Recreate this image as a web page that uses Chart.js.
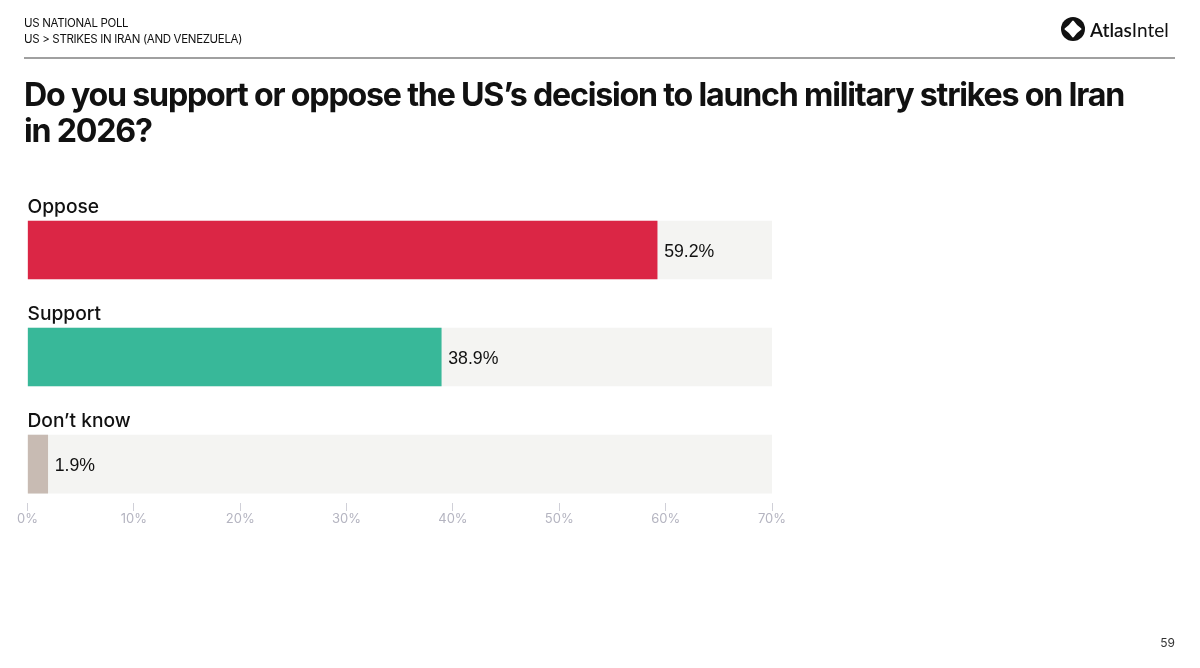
<!DOCTYPE html>
<html>
<head>
<meta charset="utf-8">
<title>AtlasIntel US National Poll</title>
<script src="https://cdn.jsdelivr.net/npm/chart.js@4"></script>
<style>
    html, body { margin: 0; padding: 0; background: #fff; }
    body { width: 1200px; height: 668px; position: relative; overflow: hidden; font-family: Inter, sans-serif; color: #111; }
    canvas { position: absolute; left: 0; top: 0; }
    .head { position: absolute; left: 24px; font-size: 11.5px; line-height: 16px; letter-spacing: -0.33px; white-space: nowrap; }
    #rule { position: absolute; left: 24px; top: 57px; width: 1151px; height: 2px; background: #a0a0a0; }
    #title { position: absolute; left: 24px; top: 77px; font-size: 32.2px; line-height: 36px; font-weight: 650; letter-spacing: -1.22px; white-space: nowrap; }
    #logo { position: absolute; left: 1061px; top: 17px; }
    #logoText { position: absolute; left: 1090px; top: 17px; font-size: 19px; line-height: 25px; font-weight: 600; white-space: nowrap; font-family: Lato, sans-serif; }
    #logoText span { font-weight: 400; }
    #page { position: absolute; right: 25px; top: 635px; font-size: 12px; line-height: 15px; color: #333; }
</style>
</head>
<body>
<canvas id="pollChart" width="1200" height="668"></canvas>
<div class="head" style="top:15px">US NATIONAL POLL</div>
<div class="head" style="top:31px">US &gt; STRIKES IN IRAN (AND VENEZUELA)</div>
<div id="rule"></div>
<div id="title">Do you support or oppose the US’s decision to launch military strikes on Iran<br>in 2026?</div>
<svg id="logo" width="24" height="24" viewBox="0 0 24 24">
    <circle cx="12" cy="12" r="12" fill="#111"/>
    <path d="M12 4.5 Q15 9 19.5 12 Q15 15 12 19.5 Q9 15 4.5 12 Q9 9 12 4.5 Z" fill="#fff" stroke="#fff" stroke-width="2" stroke-linejoin="round"/>
</svg>
<div id="logoText">Atlas<span>Intel</span></div>
<div id="page">59</div>

<script>
// Chart data
const categories = ['Oppose', 'Support', 'Don’t know'];
const values = [59.2, 38.9, 1.9];
const barColors = ['#DB2645', '#38B899', '#C8BBB3'];
const trackValues = [70, 70, 70];
const tickValues = [0, 10, 20, 30, 40, 50, 60, 70];

// Category name above each bar, percentage right of it
const barLabels = {
    id: 'barLabels',
    afterDatasetsDraw(chart) {
        const ctx = chart.ctx;
        const bars = chart.getDatasetMeta(1).data;
        ctx.save();
        ctx.fillStyle = '#111';
        ctx.textBaseline = 'middle';
        bars.forEach((bar, i) => {
            ctx.font = '500 19.2px Inter';
            ctx.fillText(categories[i], 27.5, bar.y - 43);
            ctx.font = '17.7px "Liberation Sans"';
            ctx.fillText(values[i].toFixed(1) + '%', bar.x + 7, bar.y + 2);
        });
        ctx.restore();
    }
};

const ctx = document.getElementById('pollChart');
new Chart(ctx.getContext('2d'), {
    type: 'bar',
    data: {
        datasets: [
            {
                data: trackValues.map((v, i) => ({ x: v, y: i })),
                backgroundColor: '#F4F4F2',
                order: 2
            },
            {
                data: values.map((v, i) => ({ x: v, y: i })),
                backgroundColor: barColors,
                order: 1
            }
        ]
    },
    options: {
        indexAxis: 'y',
        responsive: false,
        animation: false,
        devicePixelRatio: 1,
        grouped: false,
        barThickness: 58,
        layout: { padding: { left: 27.5, right: 428, top: 196.5, bottom: 135 } },
        plugins: {
            legend: { display: false },
            tooltip: { enabled: false }
        },
        scales: {
            x: {
                type: 'linear',
                min: 0,
                max: 70,
                afterBuildTicks(scale) {
                    scale.ticks = tickValues.map(value => ({ value }));
                },
                afterFit(scale) {
                    scale.height = 30;
                },
                border: { display: false },
                grid: { drawOnChartArea: false, tickLength: 8, color: '#D0D0D8', lineWidth: 1 },
                ticks: {
                    color: '#B4B4C0',
                    padding: 0,
                    maxRotation: 0,
                    font: { family: 'Inter', size: 13 },
                    callback: value => value + '%'
                }
            },
            y: {
                type: 'linear',
                display: false,
                offset: false,
                reverse: true,
                min: -0.5,
                max: 2.364
            }
        }
    },
    plugins: [barLabels]
});
</script>
</body>
</html>
